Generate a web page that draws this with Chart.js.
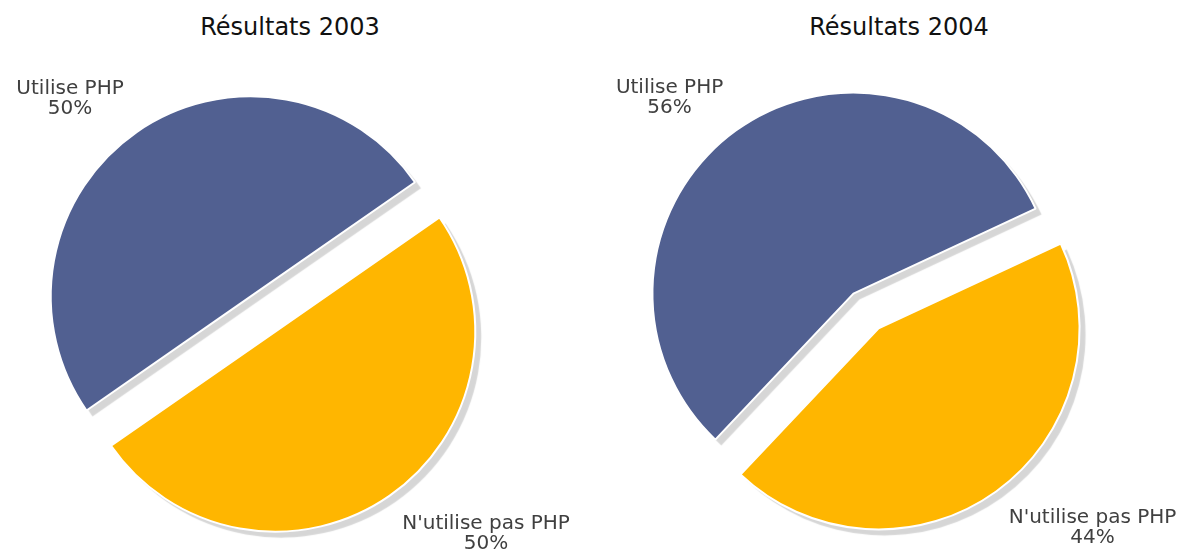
<!DOCTYPE html>
<html>
<head>
<meta charset="utf-8">
<script src="https://cdn.jsdelivr.net/npm/chart.js@4.4.1/dist/chart.umd.min.js"></script>
<style>
  html, body { margin: 0; padding: 0; background: #ffffff; }
  body { width: 1184px; height: 550px; position: relative; overflow: hidden; font-family: "DejaVu Sans", Verdana, sans-serif; }
  .title { position: absolute; top: 13px; width: 300px; text-align: center; font-size: 24px; line-height: 28px; color: #111111; white-space: nowrap; }
  .box { position: absolute; top: 0; height: 550px; }
  canvas { display: block; }
</style>
</head>
<body>
<div class="title" id="t1" style="left:140px"></div>
<div class="title" id="t2" style="left:749px"></div>
<div class="box" style="left:0px;width:580px"><canvas id="c1" width="580" height="550"></canvas></div>
<div class="box" style="left:600px;width:584px"><canvas id="c2" width="584" height="550"></canvas></div>
<script>
// ---- data ----
const categories = ['Utilise PHP', "N'utilise pas PHP"];
const values2003 = [50, 50];
const values2004 = [56, 44];
const chartTitles = ['Résultats 2003', 'Résultats 2004'];

// ---- styles ----
const sliceColors = ['#516091', '#FFB600'];

document.getElementById('t1').textContent = chartTitles[0];
document.getElementById('t2').textContent = chartTitles[1];

const pieDecor = {
  id: 'pieDecor',
  afterDatasetsUpdate(chart, args, opts) {
    const meta = chart.getDatasetMeta(0);
    meta.data.forEach(arc => {
      const mid = (arc.startAngle + arc.endAngle) / 2;
      arc.$cx = arc.x;
      arc.$cy = arc.y;
      arc.x = arc.$cx + opts.explode * Math.cos(mid);
      arc.y = arc.$cy + opts.explode * Math.sin(mid);
    });
  },
  beforeDatasetDraw(chart, args, opts) {
    const ctx = chart.ctx;
    ctx.save();
    ctx.shadowColor = opts.shadowColor;
    ctx.shadowOffsetX = opts.shadowX;
    ctx.shadowOffsetY = opts.shadowY;
    ctx.shadowBlur = opts.shadowBlur;
    const proto = Object.getPrototypeOf(ctx);
    ctx.stroke = function () {
      const c = this.shadowColor;
      this.shadowColor = 'rgba(0,0,0,0)';
      proto.stroke.apply(this, arguments);
      this.shadowColor = c;
    };
  },
  afterDatasetDraw(chart) {
    const ctx = chart.ctx;
    delete ctx.stroke;
    ctx.restore();
  },
  afterDraw(chart, args, opts) {
    const ctx = chart.ctx;
    const meta = chart.getDatasetMeta(0);
    const data = chart.data.datasets[0].data;
    const total = data.reduce((a, b) => a + b, 0);
    ctx.save();
    ctx.font = opts.font;
    ctx.fillStyle = opts.color;
    ctx.textAlign = 'center';
    ctx.textBaseline = 'alphabetic';
    meta.data.forEach((arc, i) => {
      const mid = (arc.startAngle + arc.endAngle) / 2;
      const px = arc.$cx + opts.labelRadius * Math.cos(mid);
      const py = arc.$cy + opts.labelRadius * Math.sin(mid);
      const lines = [chart.data.labels[i], Math.round(data[i] / total * 100) + '%'];
      const w = Math.max(...lines.map(l => ctx.measureText(l).width));
      const cx = Math.cos(mid) < 0 ? px - w / 2 : px + w / 2;
      const y0 = Math.sin(mid) < 0 ? py - (lines.length - 1) * opts.lineSpacing : py + opts.capHeight;
      lines.forEach((l, k) => ctx.fillText(l, cx, y0 + k * opts.lineSpacing));
    });
    ctx.restore();
  }
};

function makePie(id, values, rotation, radius, padding) {
  return new Chart(document.getElementById(id), {
    type: 'pie',
    data: {
      labels: categories,
      datasets: [{
        data: values,
        backgroundColor: sliceColors,
        borderColor: '#ffffff',
        borderWidth: 2,
        clip: false
      }]
    },
    options: {
      responsive: false,
      animation: false,
      rotation: rotation,
      radius: radius,
      layout: { padding: padding },
      events: [],
      plugins: {
        legend: { display: false },
        tooltip: { enabled: false },
        title: { display: false },
        pieDecor: {
          explode: 21.5,
          shadowColor: 'rgba(0,0,0,0.16)',
          shadowX: 6,
          shadowY: 6,
          shadowBlur: 1,
          font: '20px "DejaVu Sans", Verdana, sans-serif',
          color: '#404040',
          labelRadius: 244,
          lineSpacing: 20,
          capHeight: 14.6
        }
      }
    },
    plugins: [pieDecor]
  });
}

makePie('c1', values2003, 235.2, 200, { top: 78, right: 54, bottom: 0, left: 0 });
makePie('c2', values2004, 223.4, 201, { top: 72, right: 52, bottom: 0, left: 0 });
</script>
</body>
</html>
